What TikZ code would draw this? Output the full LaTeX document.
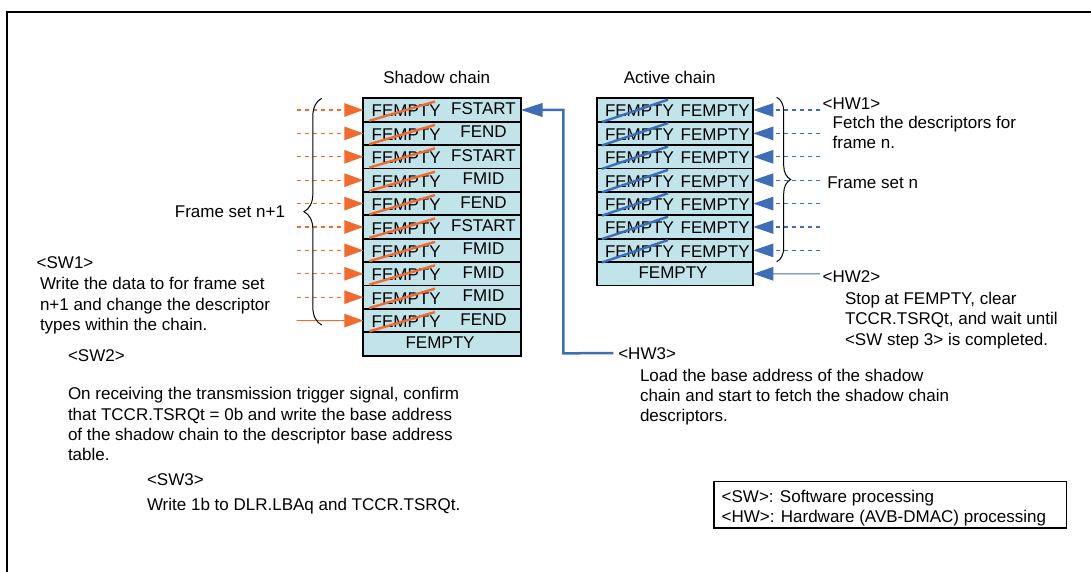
\documentclass[tikz,border=0pt]{standalone}
\usepackage{fontspec}
\setmainfont{Liberation Sans}
\usetikzlibrary{arrows.meta,decorations.pathreplacing}
\definecolor{cellfill}{RGB}{192,228,234}
\definecolor{sorange}{RGB}{242,106,45}
\definecolor{ablue}{RGB}{61,110,183}
\begin{document}
\begin{tikzpicture}[x=1pt,y=-1pt,
  every node/.style={inner sep=0pt,outer sep=0pt,font=\fontsize{17}{20.4}\selectfont},
  cell/.style={draw=black,line width=1.8pt,fill=cellfill,minimum height=23.4pt},
  scell/.style={cell,minimum width=157.4pt},
  acell/.style={cell,minimum width=156.6pt},
  txt/.style={anchor=base west,align=left},
  ctxt/.style={anchor=base},
  ostrike/.style={draw=sorange,line width=2.4pt},
  bstrike/.style={draw=ablue,line width=2.4pt},
  oarrow/.style={draw=sorange,line width=1.2pt,-{Triangle[length=19pt,width=13.5pt]}},
  barrow/.style={draw=ablue,line width=1.1pt,-{Triangle[length=20pt,width=13.5pt]}},
  hwarrow/.style={draw=ablue,line width=2.5pt,-{Triangle[length=22pt,width=13.5pt]}},
  dashline/.style={dash pattern=on 4.5pt off 3.5pt},
  bracepath/.style={draw=black,line width=1pt,decorate,decoration={brace,amplitude=#1}},
]
\useasboundingbox (0,0) rectangle (1091,572);
% outer frame
\draw[line width=2pt] (7.3,572) -- (7.3,12.3) -- (1091,12.3);

% titles
\node[ctxt] (stitle) at (436.7,83.3) {Shadow chain};
\node[ctxt] (atitle) at (669.7,83.3) {Active chain};

% shadow chain cells
\foreach \i in {1,...,11}{
  \pgfmathsetmacro\c{110+(\i-1)*23.4}
  \node[scell] (s\i) at (442,\c) {};
}
% active chain cells
\foreach \i in {1,...,8}{
  \pgfmathsetmacro\c{110+(\i-1)*23.4}
  \node[acell] (a\i) at (675,\c) {};
}

% shadow chain contents
\foreach \lab [count=\i] in {FSTART,FEND,FSTART,FMID,FEND,FSTART,FMID,FMID,FMID,FEND}{
  \pgfmathsetmacro\c{110+(\i-1)*23.4}
  \node[txt] (sl\i) at (371.7,\c+7) {FEMPTY};
  \node[ctxt] (sr\i) at (483.5,\c+4.5) {\lab};
  \draw[ostrike] (369.3,\c+10.8) -- (435,\c-8.5);
}
\node[ctxt] (s11t) at (440,348.3) {FEMPTY};

% active chain contents
\foreach \i in {1,...,7}{
  \pgfmathsetmacro\c{110+(\i-1)*23.4}
  \node[txt] (al\i) at (605,\c+6.8) {FEMPTY};
  \node[txt] (ar\i) at (680.7,\c+6.8) {FEMPTY};
  \draw[bstrike] (602,\c+12) -- (668,\c-10.3);
}
\node[ctxt] (a8t) at (673,278.3) {FEMPTY};

% left orange arrows
\foreach \i in {1,...,9}{
  \pgfmathsetmacro\c{110+(\i-1)*23.4}
  \coordinate (sin\i) at (296.7,\c);
  \draw[oarrow,dashline] (sin\i) -- (s\i.west);
}
\coordinate (sin10) at (296.7,320.6);
\draw[oarrow] (sin10) -- (s10.west);

% right blue arrows
\foreach \i in {1,...,7}{
  \pgfmathsetmacro\c{110+(\i-1)*23.4}
  \coordinate (ain\i) at (820,\c);
  \draw[barrow,dashline] (ain\i) -- (a\i.east);
}
\coordinate (ain8) at (820,273.8);
\draw[barrow] (ain8) -- (a8.east);

% braces
\draw[bracepath=17.7] (321.7,325) -- (321.7,98.3);
\draw[bracepath=14] (776.7,97.3) -- (776.7,261.7);
\node[anchor=base east] (fsn1) at (285,217.7) {Frame set n+1};
\node[txt] (fsn) at (827.3,188.3) {Frame set n};

% HW3 connector
\node[txt] (hw3) at (618.3,359) {<HW3>};
\coordinate (hw3bend) at (563.3,353.3);
\draw[hwarrow] ([xshift=-5pt]hw3.west) -- (hw3bend) |- (s1.east);
\node[txt] (hw3b) at (640,421.8) {Load the base address of the shadow\\chain and start to fetch the shadow chain\\descriptors.};

% HW1 / HW2
\node[txt] (hw1) at (822.7,109.3) {<HW1>};
\node[txt] (hw1b) at (832.7,148.7) {Fetch the descriptors for\\frame n.};
\node[txt] (hw2) at (822.7,282.7) {<HW2>};
\node[txt] (hw2b) at (845,345) {Stop at FEMPTY, clear\\TCCR.TSRQt, and wait until\\<SW step 3> is completed.};

% SW texts
\node[txt] (sw1) at (36.7,268.3) {<SW1>};
\node[txt] (sw1b) at (40,330.5) {Write the data to for frame set\\n+1 and change the descriptor\\types within the chain.};
\node[txt] (sw2) at (68,361) {<SW2>};
\node[txt] (sw2b) at (68,460.8) {On receiving the transmission trigger signal, confirm\\that TCCR.TSRQt = 0b and write the base address\\of the shadow chain to the descriptor base address\\table.};
\node[txt] (sw3) at (147,485) {<SW3>};
\node[txt] (sw3b) at (147,510) {Write 1b to DLR.LBAq and TCCR.TSRQt.};

% legend
\node[draw=black,line width=1.4pt,anchor=north west,minimum width=352.7pt,minimum height=46.3pt] (legend) at (714,481.7) {};
\node[txt] (legendt) at (721.7,522.9) {<SW>: Software processing\\<HW>: Hardware (AVB-DMAC) processing};
\end{tikzpicture}
\end{document}
